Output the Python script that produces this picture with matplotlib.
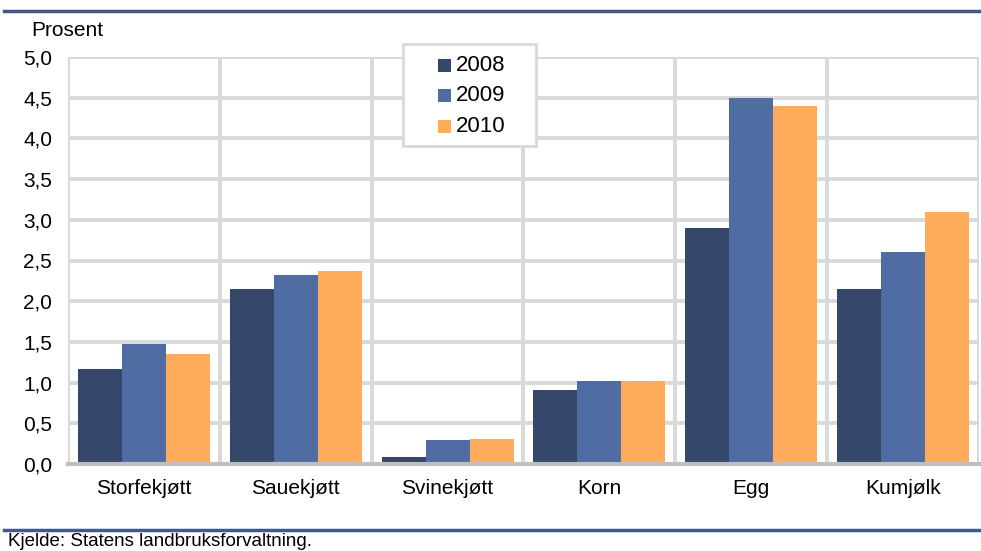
import numpy as np
import matplotlib.pyplot as plt
from matplotlib.lines import Line2D
from matplotlib.patches import Rectangle

plt.rcParams['font.family'] = ['Liberation Sans', 'DejaVu Sans']

categories = ["Storfekjøtt", "Sauekjøtt", "Svinekjøtt", "Korn", "Egg", "Kumjølk"]
years = ["2008", "2009", "2010"]
v2008 = [1.17, 2.15, 0.09, 0.91, 2.90, 2.15]
v2009 = [1.47, 2.32, 0.30, 1.02, 4.50, 2.60]
v2010 = [1.35, 2.37, 0.31, 1.02, 4.40, 3.10]
yticks = [0.0, 0.5, 1.0, 1.5, 2.0, 2.5, 3.0, 3.5, 4.0, 4.5, 5.0]

colors = ["#35476b", "#4f6da3", "#ffab5c"]
grid_col = "#d9d9d9"
W, H = 981, 551


def fx(px):
    return px / W


def fy(py):
    return 1 - py / H


fig = plt.figure(figsize=(W / 100, H / 100), dpi=100)
ax = fig.add_axes([fx(68), fy(464), fx(979 - 68), (464 - 57) / H])

x = np.arange(len(categories))
w = 0.29
for i, vals in enumerate([v2008, v2009, v2010]):
    ax.bar(x + (i - 1) * w, vals, width=w, color=colors[i], zorder=3, label=years[i])

ax.set_xlim(-0.5, len(categories) - 0.5)
ax.set_ylim(0, 5.0)
ax.set_yticks(yticks)
ax.set_yticklabels([f"{t:.1f}".replace(".", ",") for t in yticks], fontsize=15)
ax.set_xticks(x)
ax.set_xticklabels(categories, fontsize=15)
ax.tick_params(length=0)
ax.tick_params(axis='y', pad=11.5)
ax.tick_params(axis='x', pad=11)

# grid lines
for t in yticks[1:]:
    ax.axhline(t, color=grid_col, lw=2.8, zorder=1)
for b in np.arange(-0.5, len(categories), 1.0):
    ax.axvline(b, color=grid_col, lw=2.8, zorder=1)

for s in ['top', 'right', 'left']:
    ax.spines[s].set_visible(False)
ax.spines['bottom'].set_color("#bfbfbf")
ax.spines['bottom'].set_linewidth(3)
ax.spines['bottom'].set_zorder(4)

# legend box drawn by hand so its size matches the original
fig.add_artist(Rectangle((fx(403), fy(146)), fx(536 - 403), (146 - 44) / H,
                         transform=fig.transFigure, facecolor='white',
                         edgecolor=grid_col, lw=2, zorder=5))
for i, yr in enumerate(years):
    yc = 65 + i * 30.5
    fig.add_artist(Rectangle((fx(438), fy(yc + 6.5)), fx(13), 13 / H,
                             transform=fig.transFigure, facecolor=colors[i],
                             edgecolor='none', zorder=6))
    fig.text(fx(456), fy(yc), yr, fontsize=16, va='center', ha='left', zorder=6)

fig.text(fx(31), fy(30), "Prosent", fontsize=15, va='center', ha='left')
fig.text(fx(8), fy(541), "Kjelde: Statens landbruksforvaltning.", fontsize=13.5, va='center', ha='left')

fig.add_artist(Line2D([fx(4), 1], [fy(11)] * 2, color="#3f5a8a", lw=2.5, transform=fig.transFigure))
fig.add_artist(Line2D([fx(4), 1], [fy(530)] * 2, color="#3f5a8a", lw=2.5, transform=fig.transFigure))

fig.savefig("out.png", dpi=100)
